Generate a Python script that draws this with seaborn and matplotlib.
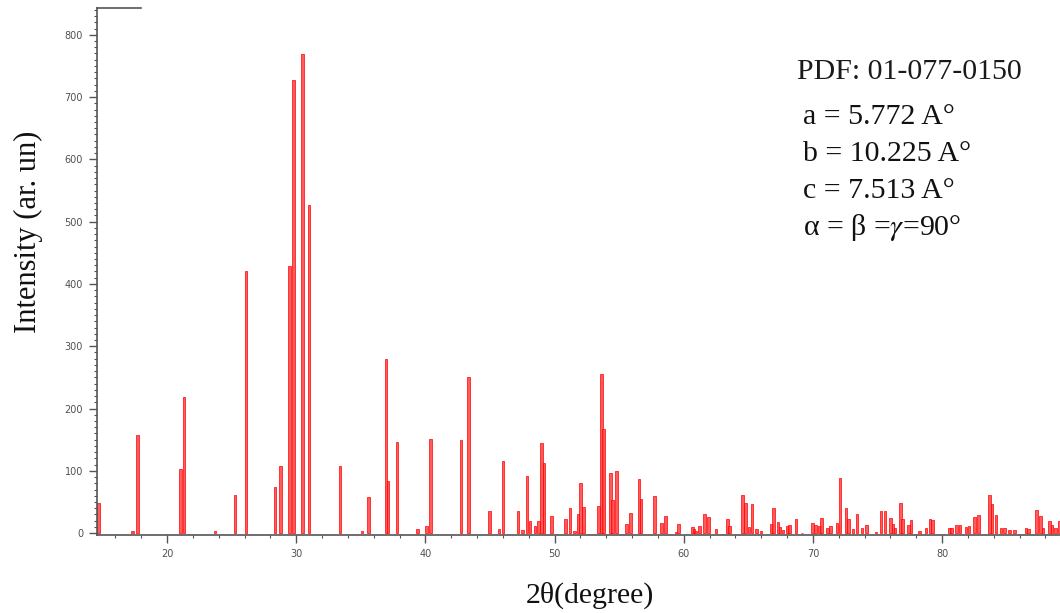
import matplotlib
matplotlib.use("Agg")
import matplotlib.pyplot as plt
from matplotlib.ticker import MultipleLocator
import seaborn as sns
import pandas as pd

# Reference stick pattern: 2-theta positions (degrees) and relative intensities
two_theta = [
    14.7, 17.35, 17.7, 21.06, 21.3, 23.7, 25.27, 26.1, 28.37, 28.8,
    29.5, 29.77, 30.47, 31.0, 33.4, 35.1, 35.6, 36.95, 37.1, 37.8,
    39.4, 40.08, 40.4, 42.77, 43.36, 44.96, 45.7, 46.0, 47.16, 47.5,
    47.88, 48.1, 48.5, 48.76, 48.97, 49.17, 49.77, 50.85, 51.19, 51.55,
    51.83, 52.0, 52.25, 53.4, 53.65, 53.8, 54.34, 54.47, 54.8, 55.56,
    55.9, 56.54, 56.7, 57.73, 58.3, 58.6, 59.4, 59.6, 60.67, 60.8,
    60.9, 61.2, 61.6, 61.9, 62.5, 63.4, 63.56, 64.55, 64.77, 65.06,
    65.3, 65.63, 65.97, 66.78, 66.93, 67.3, 67.46, 67.7, 68.04, 68.2,
    68.68, 69.15, 69.98, 70.18, 70.5, 70.67, 71.14, 71.35, 71.87, 72.1,
    72.56, 72.74, 73.1, 73.4, 73.8, 74.16, 74.9, 75.27, 75.58, 76.0,
    76.2, 76.36, 76.8, 76.95, 77.4, 77.6, 78.24, 78.76, 79.07, 79.27,
    80.56, 80.75, 81.14, 81.4, 81.86, 82.07, 82.5, 82.84, 83.67, 83.88,
    84.19, 84.57, 84.83, 85.2, 85.6, 86.5, 86.7, 87.3, 87.6, 87.8,
    88.3, 88.5, 88.8, 89.1,
]
intensity = [
    48, 3, 157, 103, 218, 3, 61, 421, 74, 108,
    429, 727, 769, 527, 108, 3, 58, 280, 84, 146,
    7, 11, 151, 150, 251, 35, 7, 115, 36, 5,
    91, 20, 12, 20, 144, 113, 28, 23, 40, 4,
    30, 81, 42, 44, 255, 167, 97, 53, 99, 14,
    32, 87, 55, 60, 17, 28, 2, 15, 10, 6,
    4, 12, 30, 26, 6, 22, 12, 61, 49, 10,
    46, 6, 3, 15, 40, 18, 10, 5, 11, 13,
    23, 1, 16, 13, 12, 24, 8, 12, 16, 88,
    41, 22, 6, 31, 8, 13, 2, 36, 35, 24,
    14, 9, 49, 22, 13, 21, 3, 8, 22, 21,
    8, 8, 13, 13, 10, 11, 26, 29, 61, 47,
    29, 8, 8, 5, 5, 8, 6, 37, 28, 8,
    19, 13, 8, 19,
]

y_ticks = [0, 100, 200, 300, 400, 500, 600, 700, 800]
x_ticks = [20, 30, 40, 50, 60, 70, 80]

card_title = "PDF: 01-077-0150"
card_lines = ["a = 5.772 A°", "b = 10.225 A°", "c = 7.513 A°",
              "α = β =$\\gamma$=90°"]

sns.set_theme(style="ticks")
plt.rcParams["font.family"] = ["DejaVu Sans"]
plt.rcParams["mathtext.fontset"] = "stix"

W, H = 1060, 613
fig = plt.figure(figsize=(W / 100, H / 100), dpi=100)
ax = fig.add_axes([97 / W, 1 - 535 / H, 1 - 97 / W, (535 - 8) / H])

df = pd.DataFrame({"two_theta": two_theta, "intensity": intensity})
sns.barplot(data=df, x="two_theta", y="intensity", native_scale=True,
            color="#ff0000", saturation=1, errorbar=None, linewidth=0,
            ax=ax)

# give every stick the same finite width around its 2-theta position
stick_w = 0.2
for patch, pos in zip(ax.patches, sorted(two_theta)):
    patch.set_width(stick_w)
    patch.set_x(pos - stick_w / 2)
    patch.set_facecolor((1.0, 0.25, 0.25, 0.85))
    patch.set_edgecolor("#ff0000")
    patch.set_linewidth(0.5)

ax.set_xlim(14.58, 89.13)
ax.set_ylim(-3, 843)
ax.set_xlabel("")
ax.set_ylabel("")

ax.set_xticks(x_ticks)
ax.set_yticks(y_ticks)
ax.xaxis.set_minor_locator(MultipleLocator(2))
ax.yaxis.set_minor_locator(MultipleLocator(10))
spine_c = "#555555"
ax.tick_params(axis="both", which="major", direction="out", length=6,
               width=1.0, color=spine_c, labelsize=7, labelcolor="#505050",
               pad=4)
ax.tick_params(axis="both", which="minor", direction="out", length=2.5,
               width=0.8, color=spine_c)

ax.spines["right"].set_visible(False)
ax.spines["top"].set_bounds(14.58, 18.0)
for side in ("left", "bottom", "top"):
    ax.spines[side].set_color(spine_c)
    ax.spines[side].set_linewidth(1.2)
ax.grid(False)

serif = ["Liberation Serif", "DejaVu Serif"]
fig.text(28 / W, 1 - 232 / H, "Intensity (ar. un)", rotation=90,
         ha="center", va="center", fontsize=22, family=serif, color="#111111")
fig.text(590 / W, 1 - 595 / H, "2θ(degree)", ha="center", va="center",
         fontsize=21.5, family=serif, color="#111111")

fig.text(797 / W, 1 - 72 / H, card_title, ha="left", va="center",
         fontsize=21.5, family=serif, color="#1a1a1a")
for i, line in enumerate(card_lines):
    fig.text(803 / W, 1 - (117 + 37 * i) / H, line, ha="left", va="center",
             fontsize=21.5, family=serif, color="#111111")

fig.savefig("out.png", dpi=100)
